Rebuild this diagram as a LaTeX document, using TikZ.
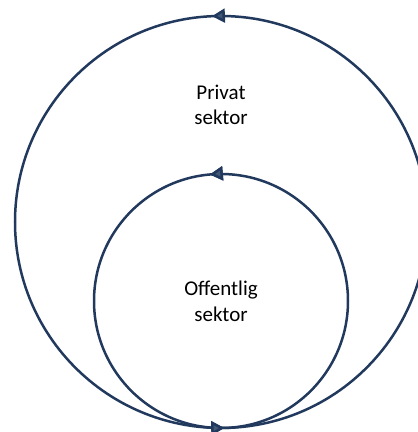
\documentclass[tikz,border=0pt]{standalone}
\usepackage{fontspec}
\setmainfont{Carlito}
\usetikzlibrary{arrows.meta,decorations.markings}
\definecolor{navy}{HTML}{22395E}
\tikzset{
  sector/.style={align=center,font=\fontsize{21}{25.6}\selectfont},
  ring/.style={draw=navy,line width=2.5pt},
  flowmark/.style={postaction={decorate},decoration={markings,
    mark=at position #1 with {\arrow{Triangle[length=13pt,width=14pt,fill=navy!85!white]}}}}
}
\begin{document}
\begin{tikzpicture}[x=1pt,y=1pt]
\useasboundingbox (0,0) rectangle (418,432);
\clip (0,0) rectangle (418,432);
\coordinate (outer-c) at (221,210);
\coordinate (inner-c) at (221,131);

\node[sector] (privat) at (221,327) {Privat\\sektor};
\node[sector] (offentlig) at (221,131) {Offentlig\\sektor};

% sirkler med strømningsretning
\path[ring,flowmark=0.257] (outer-c) circle (206);
\path[ring,flowmark=0.264,flowmark=0.754] (inner-c) circle (127);
\end{tikzpicture}
\end{document}
